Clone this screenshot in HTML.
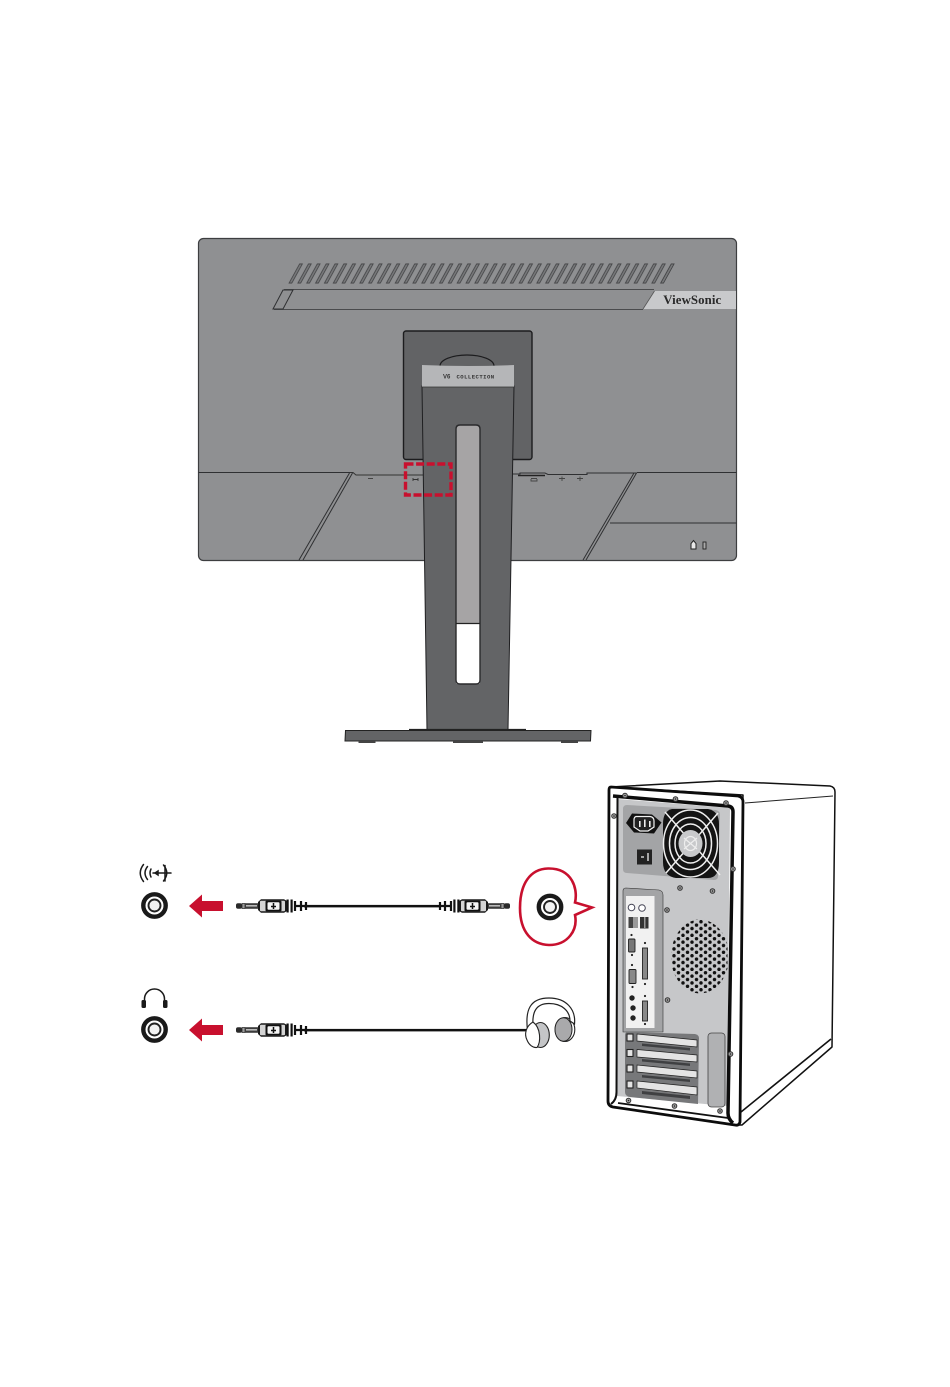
<!DOCTYPE html>
<html><head><meta charset="utf-8"><style>
html,body{margin:0;padding:0;background:#fff}
svg{display:block}
</style></head><body>
<svg width="950" height="1387" viewBox="0 0 950 1387" xmlns="http://www.w3.org/2000/svg">
<defs>
<pattern id="vent" patternUnits="userSpaceOnUse" width="8.85" height="20" x="0" y="0">
<rect x=".8" y=".4" width="2.800" height="19.200" fill="#77787a" stroke="#404143" stroke-width=".9"/>
</pattern>
<pattern id="holes" patternUnits="userSpaceOnUse" width="9" height="6.8" x="672" y="920">
<circle cx="2" cy="1.700" r="1.750" fill="#111"/><circle cx="6.500" cy="5.100" r="1.750" fill="#111"/>
</pattern>
<clipPath id="holeclip"><rect x="670" y="915" width="57.500" height="82"/></clipPath>
<g id="plug">
<rect x="0" y="-2.800" width="6" height="5.600" rx="2" fill="#2a2a2a"/>
<rect x="6" y="-2.500" width="3" height="5" fill="#999" stroke="#222" stroke-width=".7"/>
<rect x="9" y="-2.800" width="13" height="5.600" fill="#3c3c3c"/>
<rect x="10" y="-1" width="11" height="1.600" fill="#bbb"/>
<path d="M22-4 L25-6.800 H48 L51-5 V5 L48 6.800 H25 L22 4Z" fill="#1a1a1a"/>
<rect x="24" y="-5.200" width="25" height="10.400" rx="1" fill="#d4d4d4"/>
<rect x="29.500" y="-5.400" width="16" height="10.800" rx="1" fill="#111"/>
<rect x="31.500" y="-3.800" width="12" height="7.600" rx="1" fill="#f4f4f4"/>
<path d="M37.500-3V3M35 .5H40" stroke="#111" stroke-width="1.500"/>
<rect x="50.500" y="-6.500" width="2.200" height="13" fill="#111"/>
<rect x="54.500" y="-6.500" width="2.200" height="13" fill="#111"/>
<path d="M59-5V5M59 0H65M65-5V5M65 0H70M70-4V4" stroke="#111" stroke-width="2.200" fill="none"/>
</g>
<g id="jack">
<circle r="11.200" fill="#fff" stroke="#1a1a1a" stroke-width="4.400"/>
<circle r="6" fill="#f2f2f2" stroke="#222" stroke-width="1.900"/>
</g>
<g id="arrow"><path d="M0 0 L13-11.500 V-5 H34 V5 H13 V11.500Z" fill="#c8102e"/></g>
<g id="screw"><circle r="2.300" fill="#a5a5a5" stroke="#333" stroke-width="1"/><circle r=".8" fill="#222"/></g>
</defs>

<!-- Monitor panel -->
<rect x="198.500" y="238.500" width="538" height="322" rx="5" fill="#8f9092" stroke="#3d3e40" stroke-width="1.200"/>
<g transform="translate(288,283.500) skewX(-28.800)">
<rect x="0" y="-20" width="372" height="20" fill="url(#vent)"/>
</g>
<g transform="translate(288,283.500) skewX(-28.800) translate(371.700,-20)">
<rect x=".8" y=".4" width="2.800" height="19.200" fill="#77787a" stroke="#404143" stroke-width=".9"/>
</g>
<!-- strip -->
<path d="M284 289.500H654M274 309.500H643" stroke="#4a4b4d" stroke-width="1.100" fill="none"/>
<polygon points="283,290 293,290 283,309 273,309" fill="#8f9092" stroke="#2f3032" stroke-width="1"/>
<polygon points="654.500,291 736,291 736,309 643,309" fill="#c8c9cb"/>
<path d="M654.500 291L643 309" stroke="#555" stroke-width=".8"/>
<text x="692.300" y="304" text-anchor="middle" font-family="'Liberation Serif',serif" font-weight="bold" font-size="12.800" letter-spacing=".1" fill="#2a2a2a">ViewSonic</text>

<!-- Mount -->
<rect x="403.500" y="331" width="128.500" height="128.500" rx="2.500" fill="#626365" stroke="#1c1c1e" stroke-width="1.400"/>
<path d="M440 366A27 11 0 0 1 494 366" fill="none" stroke="#1c1c1e" stroke-width="1.200"/>

<!-- lower seams -->
<path d="M198.500 472.500H350" stroke="#2f3032" stroke-width="1" fill="none"/>
<path d="M350 472.500H353L356 475H424" stroke="#333" stroke-width="1" fill="none"/>
<path d="M349.500 473L299 560M352.500 473L303 560" stroke="#2f3032" stroke-width="1" fill="none"/>
<path d="M512 474H520V473H545L548 474.500H587V473H637M637 472.500H736.500" stroke="#2f3032" stroke-width="1.100" fill="none"/>
<path d="M518 475.500H545" stroke="#222" stroke-width="1.500"/>
<path d="M636.500 473L586 560M634 473L583 560" stroke="#2f3032" stroke-width="1" fill="none"/>
<path d="M610 523H736.500" stroke="#2f3032" stroke-width="1" fill="none"/>
<!-- tiny port icons -->
<path d="M368 478.500H373M531 478.500H537M531 479V481H537V479M559 478.500H565M562 476.500V481M577 478.500H583M580 476.500V481" stroke="#444" stroke-width=".9" fill="none"/>
<path d="M413 479.500H418M413 478V481M418 478V481" stroke="#333" stroke-width=".9" fill="none"/>
<!-- lock icons -->
<path d="M691 549V543.500L693.500 540.500L696 543.500V549Z" fill="#e8e8e8" stroke="#222" stroke-width="1"/>
<rect x="703" y="542" width="3" height="7" fill="#aaa" stroke="#222" stroke-width=".9"/>

<!-- Stand -->
<polygon points="422,386 514,386 508,730 427,730" fill="#636466" stroke="#1f1f21" stroke-width="1"/>
<path d="M422 365Q468 367 514 365V387H422Z" fill="#b5b6b8"/>
<path d="M422 387H514" stroke="#333" stroke-width=".8"/>
<text x="443" y="378.500" font-family="'Liberation Sans',sans-serif" font-weight="bold" font-size="6" fill="#333">V6</text>
<text x="456.500" y="378.500" font-family="'Liberation Mono',monospace" font-weight="bold" font-size="5.600" letter-spacing=".45" fill="#333">COLLECTION</text>
<path d="M456 684V429Q456 425 460 425H476Q480 425 480 429V684Z" fill="#a6a4a5"/>
<path d="M456 623H480V680Q480 684 476 684H460Q456 684 456 680Z" fill="#fff"/>
<path d="M456 429Q456 425 460 425H476Q480 425 480 429V680Q480 684 476 684H460Q456 684 456 680Z" fill="none" stroke="#2a2a2c" stroke-width="1.400"/>
<path d="M456 623.500H480" stroke="#222" stroke-width="1.200"/>

<!-- Base -->
<polygon points="345.500,730.500 591,730.500 590.500,741 345,741" fill="#636466" stroke="#222" stroke-width="1"/>
<path d="M409 729.500H526" stroke="#222" stroke-width="1.200"/>
<rect x="358.500" y="741" width="17" height="2" fill="#444"/>
<rect x="453" y="741" width="30" height="2" fill="#444"/>
<rect x="561" y="741" width="17" height="2" fill="#444"/>

<!-- Red dashed box -->
<rect x="405.500" y="464" width="45.500" height="31" fill="none" stroke="#c8102e" stroke-width="3.400" stroke-dasharray="8 2.600"/>

<!-- Audio row 1 -->
<g fill="none" stroke="#1a1a1a" stroke-width="1.500" stroke-linecap="round">
<path d="M143.500 864.500Q137 873 143.500 881.500M147.500 866.500Q142.500 873 147.500 879.500M151 869Q149 873 151 877"/>
<path d="M153 873H171M165 865.500V881"/>
<path d="M163.500 865Q170 873 163.500 881"/>
<path d="M155 873L158 871V875Z" fill="#1a1a1a"/>
</g>
<use href="#jack" x="154.500" y="905.500"/>
<use href="#arrow" x="189" y="906"/>
<use href="#plug" x="236" y="906"/>
<rect x="304" y="904.900" width="136" height="2.500" fill="#111"/>
<g transform="translate(510,906) scale(-1,1)"><use href="#plug"/></g>
<use href="#jack" x="550" y="907"/>
<path d="M575 902.500C578 890 573 868 548 868.500C530 869 520 884 520 908C520 932 532 944.500 549 945C568 945 578 930 575 915L592 907.500Z" fill="none" stroke="#c8102e" stroke-width="2.600" stroke-linejoin="miter"/>

<!-- Audio row 2 -->
<path d="M144.500 1001V999A10 10 0 0 1 164.500 999V1001" fill="none" stroke="#1a1a1a" stroke-width="1.500"/>
<rect x="141.500" y="1000" width="4.500" height="8" rx="1.500" fill="#1a1a1a"/>
<rect x="163" y="1000" width="4.500" height="8" rx="1.500" fill="#1a1a1a"/>
<use href="#jack" x="154.500" y="1029.500"/>
<use href="#arrow" x="189" y="1030"/>
<use href="#plug" x="236" y="1030"/>
<rect x="304" y="1028.900" width="224" height="2.500" fill="#111"/>
<!-- Headphones -->
<ellipse cx="565" cy="1029.500" rx="9.800" ry="12" fill="#fff" stroke="#222" stroke-width="1.100"/>
<ellipse cx="563.500" cy="1029.500" rx="8.500" ry="11.800" fill="#a9a9ab" stroke="#222" stroke-width="1"/>
<path d="M527.500 1030C525 1010 530 998 549 998C566 998 576 1009 574.500 1024L570 1021C570 1011 562 1003.500 549 1003.500C536 1003.500 532 1012 533 1026Z" fill="#fff" stroke="#222" stroke-width="1.200"/>
<ellipse cx="540.500" cy="1035" rx="8.800" ry="12.500" fill="#c4c5c7" stroke="#222" stroke-width="1.100"/>
<path d="M533 1022C526 1026 524 1034 527 1040C529 1045 533 1048 537 1047.500C541 1042 541 1028 533 1022Z" fill="#fff" stroke="#222" stroke-width="1.100"/>

<!-- Computer body -->
<path d="M611 787L720 781L830 786Q835 787 835 792L832 1047L742 1125H738L743 795Z" fill="#fff" stroke="#111" stroke-width="1.500" stroke-linejoin="round"/>
<path d="M745 803L833 796" stroke="#222" stroke-width="1" fill="none"/>
<path d="M741 1112L831 1039" stroke="#111" stroke-width="1.600" fill="none"/>
<!-- rear face -->
<path d="M611 787L738 796Q743 797 743 802L740 1122Q739 1126 735 1125L613 1107Q608 1106 608 1101L609 790Q609 787 611 787Z" fill="#fff" stroke="#0c0c0c" stroke-width="2.800"/>
<polygon points="618,799 730,808 727,1106 617,1096" fill="#c6c7c9"/>
<path d="M613 796L728 806Q733 806.500 733 812L728 1113Q728 1119 733 1123" fill="none" stroke="#0c0c0c" stroke-width="3.500"/>
<path d="M617.500 798L616.500 1092Q616.500 1100 611 1104" fill="none" stroke="#111" stroke-width="2"/>
<path d="M618 1103L728 1118" stroke="#111" stroke-width="1.800" fill="none"/>
<!-- PSU -->
<path d="M627 805L716 810Q720 811 720 815L718 876Q718 880 714 880L627 873Q623 873 623 869V809Q623 805 627 805Z" fill="#a3a4a6"/>
<path d="M632 813.500L652 814.500L661.500 822.500L654 833.500L634 832.500L626 823Z" fill="#111"/>
<path d="M636 816.500H650Q654 817 654 821V827L648 831H640L634 827V820Q634 817 636 816.500Z" fill="#222" stroke="#f2f2f2" stroke-width="1.200"/>
<rect x="639" y="821" width="1.600" height="6" fill="#eee"/><rect x="644" y="819.500" width="1.600" height="7.500" fill="#eee"/><rect x="649" y="821" width="1.600" height="6" fill="#eee"/>
<rect x="637" y="849.500" width="15" height="15" fill="#222"/>
<path d="M641 857H644M648 853V861" stroke="#eee" stroke-width="1.300"/>
<path d="M672 809H708Q719 811 719 824V862Q719 878 708 878H676Q663 876 663 862V824Q663 811 672 809Z" fill="#141414"/>
<g fill="none" stroke="#efefef" stroke-width="1.500">
<ellipse cx="690.500" cy="843.500" rx="27" ry="33.500"/>
<ellipse cx="690.500" cy="843.500" rx="21" ry="26"/>
<ellipse cx="690.500" cy="843.500" rx="15.500" ry="19.500"/>
<path d="M665 812L720 875M718 813L666 873"/>
</g>
<ellipse cx="690.500" cy="843.500" rx="12" ry="13.500" fill="#c8c9cb"/>
<ellipse cx="690.500" cy="843.500" rx="6" ry="7" fill="none" stroke="#eee" stroke-width="1.200"/>
<path d="M684 838L697 849M697 838L684 849" stroke="#eee" stroke-width="1.200"/>
<!-- IO shield -->
<path d="M626 888L659 890Q663 891 663 895V1032H623V891Q623 888 626 888Z" fill="#a3a4a6" stroke="#333" stroke-width=".6"/>
<rect x="626" y="896" width="28.500" height="132" fill="#f1f1f1"/>
<circle cx="631.500" cy="907.500" r="3.300" fill="#fff" stroke="#445" stroke-width="1"/>
<circle cx="642" cy="908" r="3.300" fill="#fff" stroke="#445" stroke-width="1"/>
<rect x="628.500" y="917" width="5" height="11" fill="#444"/>
<rect x="634" y="917" width="4" height="11" fill="#999"/>
<rect x="640" y="917" width="8.500" height="11.500" fill="#333"/>
<rect x="644" y="917" width="1.500" height="11" fill="#999"/>
<rect x="628.500" y="939" width="6.500" height="13" rx="1" fill="#777" stroke="#222" stroke-width=".9"/>
<rect x="629" y="969.500" width="7" height="14" rx="1" fill="#888" stroke="#222" stroke-width=".9"/>
<rect x="642.500" y="948" width="5" height="31" fill="#888" stroke="#222" stroke-width=".9"/>
<rect x="642.500" y="1001" width="5" height="20" fill="#888" stroke="#222" stroke-width=".9"/>
<circle cx="632" cy="998" r="2.700" fill="#222"/><circle cx="633" cy="1008" r="2.700" fill="#222"/><circle cx="633" cy="1018" r="2.700" fill="#222"/>
<g fill="#222"><circle cx="631.500" cy="935" r="1.100"/><circle cx="632" cy="955" r="1.100"/><circle cx="632" cy="965" r="1.100"/><circle cx="632.500" cy="987" r="1.100"/><circle cx="645" cy="943" r="1.100"/><circle cx="645" cy="984" r="1.100"/><circle cx="645" cy="996" r="1.100"/><circle cx="645" cy="1024" r="1.100"/></g>
<!-- Vent holes -->
<g clip-path="url(#holeclip)"><ellipse cx="700" cy="956.500" rx="29" ry="37" fill="url(#holes)"/></g>
<!-- Cards -->
<path d="M628 1032L695 1034Q699 1035 699 1038L698 1104L630 1097Q625 1096 625 1092V1035Q625 1032 628 1032Z" fill="#77787a"/>
<g fill="#e4e4e4" stroke="#222" stroke-width=".7">
<polygon points="637,1034 697,1040 697,1047 637,1041"/>
<polygon points="637,1049.500 697,1055 697,1062 637,1057"/>
<polygon points="637,1065 697,1071 697,1078 637,1072"/>
<polygon points="637,1081 697,1087 697,1095 637,1088"/>
<rect x="627" y="1034" width="6" height="7" stroke-width="1.100"/>
<rect x="627" y="1049.500" width="6" height="7" stroke-width="1.100"/>
<rect x="627" y="1065" width="6" height="7" stroke-width="1.100"/>
<rect x="627" y="1081" width="6" height="7" stroke-width="1.100"/>
</g>
<g fill="#3f4042"><polygon points="642,1043.500 690,1048 690,1050.500 642,1046"/><polygon points="642,1059 690,1063.500 690,1066 642,1061.500"/><polygon points="642,1075 690,1079.500 690,1082 642,1077.500"/><polygon points="642,1091 690,1096 690,1099 642,1094"/></g>
<!-- Side rectangle -->
<rect x="708" y="1033" width="17" height="74" rx="3.500" fill="#b0b1b3" stroke="#444" stroke-width=".8"/>
<!-- Screws -->
<use href="#screw" x="625" y="795.500"/><use href="#screw" x="675.500" y="799"/><use href="#screw" x="726" y="803"/>
<use href="#screw" x="614" y="816"/><use href="#screw" x="733" y="869"/>
<use href="#screw" x="680" y="888"/><use href="#screw" x="712.500" y="891"/>
<use href="#screw" x="667" y="910"/><use href="#screw" x="667.500" y="1000"/>
<use href="#screw" x="730.500" y="1054"/><use href="#screw" x="628.500" y="1100.500"/><use href="#screw" x="674.500" y="1106"/><use href="#screw" x="720" y="1111"/>
</svg>
</body></html>
